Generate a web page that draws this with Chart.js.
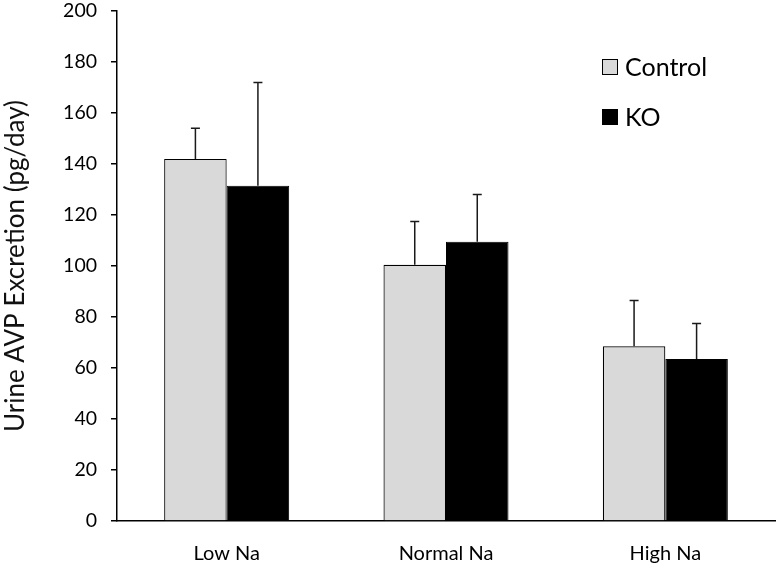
<!DOCTYPE html>
<html>
<head>
<meta charset="utf-8">
<script src="https://cdn.jsdelivr.net/npm/chart.js@4"></script>
<style>
  html, body { margin: 0; padding: 0; background: #fff; }
  #wrap { width: 777px; height: 574px; position: relative; }
</style>
</head>
<body>
<div id="wrap"><canvas id="c" width="777" height="574"></canvas></div>
<script>
// ---- data ----
const categories = ['Low Na', 'Normal Na', 'High Na'];
const seriesNames = ['Control', 'KO'];
const controlMeans = [142, 100.5, 68.5];
const koMeans = [131.5, 109.5, 63.5];
const controlErr = [12, 17, 18];
const koErr = [40.5, 18.5, 14];
const yAxisTitle = 'Urine AVP Excretion (pg/day)';
const yMin = 0, yMax = 200, yStep = 20;

const FONT = 'Lato, "Open Sans", "DejaVu Sans", sans-serif';

const errorBarPlugin = {
  id: 'errorBars',
  afterDatasetsDraw(chart) {
    const ctx = chart.ctx;
    const yScale = chart.scales.y;
    chart.data.datasets.forEach((ds, di) => {
      const meta = chart.getDatasetMeta(di);
      meta.data.forEach((el, i) => {
        const v = ds.data[i];
        const e = ds.errors[i];
        const yTop = yScale.getPixelForValue(v + e);
        ctx.save();
        ctx.strokeStyle = '#1a1a1a';
        ctx.lineWidth = 1.5;
        ctx.beginPath();
        ctx.moveTo(el.x, el.y);
        ctx.lineTo(el.x, yTop);
        ctx.moveTo(el.x - 4.5, yTop);
        ctx.lineTo(el.x + 4.5, yTop);
        ctx.stroke();
        ctx.restore();
      });
    });
  }
};

const legendPlugin = {
  id: 'customLegend',
  afterDraw(chart) {
    const ctx = chart.ctx;
    const x0 = 602, y0 = 67, gap = 50, box = 16;
    chart.data.datasets.forEach((ds, i) => {
      const cy = y0 + i * gap;
      ctx.save();
      ctx.fillStyle = ds.backgroundColor;
      ctx.fillRect(x0, cy - box / 2, box, box);
      ctx.strokeStyle = '#000';
      ctx.lineWidth = 1;
      ctx.strokeRect(x0 + 0.5, cy - box / 2 + 0.5, box - 1, box - 1);
      ctx.fillStyle = '#000';
      ctx.font = '25px ' + FONT;
      ctx.textBaseline = 'middle';
      ctx.textAlign = 'left';
      ctx.fillText(ds.label, x0 + box + 7, cy + 1);
      ctx.restore();
    });
  }
};

new Chart(document.getElementById('c'), {
  type: 'bar',
  data: {
    labels: categories,
    datasets: [
      {
        label: seriesNames[0],
        data: controlMeans,
        errors: controlErr,
        backgroundColor: '#d9d9d9',
        borderColor: '#000',
        borderWidth: 1.2,
        categoryPercentage: 0.57,
        barPercentage: 1.0
      },
      {
        label: seriesNames[1],
        data: koMeans,
        errors: koErr,
        backgroundColor: '#000000',
        borderColor: '#000',
        borderWidth: 1,
        categoryPercentage: 0.57,
        barPercentage: 1.0
      }
    ]
  },
  options: {
    responsive: false,
    animation: false,
    devicePixelRatio: 1,
    layout: { padding: { left: 0, right: 2, top: 0, bottom: 0 } },
    plugins: {
      legend: { display: false },
      tooltip: { enabled: false }
    },
    scales: {
      x: {
        grid: { display: false, drawTicks: false },
        border: { display: true, color: '#000', width: 1.5 },
        ticks: {
          color: '#000',
          font: { family: FONT, size: 20 },
          padding: 21,
          maxRotation: 0
        },
        afterFit(scale) { scale.height = 53; }
      },
      y: {
        min: yMin,
        max: yMax,
        ticks: {
          stepSize: yStep,
          color: '#000',
          font: { family: FONT, size: 19.5 },
          padding: 14
        },
        grid: {
          display: true,
          drawOnChartArea: false,
          drawTicks: true,
          tickLength: 6,
          color: '#000',
          lineWidth: 1.5
        },
        border: { display: true, color: '#000', width: 1.5 },
        title: {
          display: true,
          text: yAxisTitle,
          color: '#111',
          font: { family: FONT, size: 26 },
          padding: { top: 0, bottom: 0 }
        },
        afterFit(scale) {
          scale.width = 117;
          scale.paddingTop = 11;
          scale.paddingBottom = 0;
        }
      }
    }
  },
  plugins: [errorBarPlugin, legendPlugin]
});
</script>
</body>
</html>
